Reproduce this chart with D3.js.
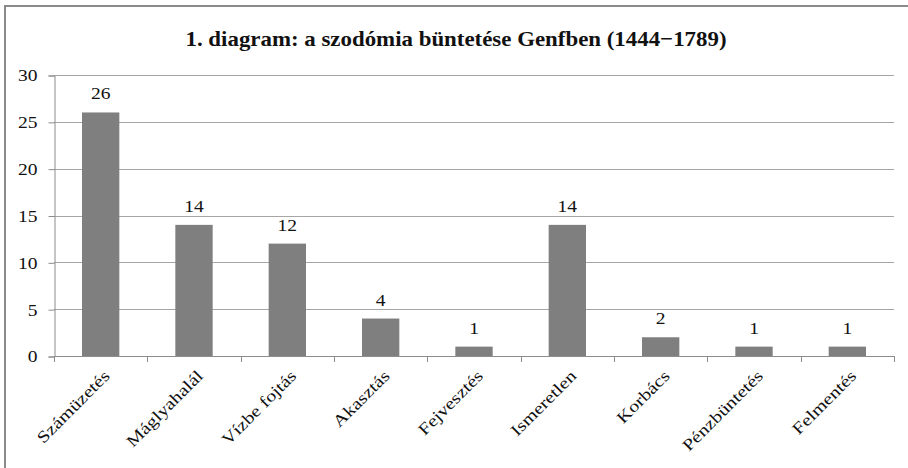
<!DOCTYPE html>
<html lang="hu">

<head>
  <title></title>
  <meta charset="UTF-8">
  <style>
    body {
      margin: 0;
      background: #fff;
    }
    svg text {
      font-family: "Liberation Serif", "Times New Roman", "DejaVu Serif", serif;
    }
  </style>
</head>

<body>
  <div id="container"></div>
  <script src="https://cdn.jsdelivr.net/npm/d3@7"></script>
  <script>
    const categories = ['Számüzetés', 'Máglyahalál', 'Vízbe fojtás', 'Akasztás', 'Fejvesztés',
      'Ismeretlen', 'Korbács', 'Pénzbüntetés', 'Felmentés'];
    const counts = [26, 14, 12, 4, 1, 14, 2, 1, 1];
    const yTicks = [0, 5, 10, 15, 20, 25, 30];
    const title = '1. diagram: a szodómia büntetése Genfben (1444\u22121789)';

    const size = { w: 908, h: 468 };
    const plot = { left: 54, right: 894, top: 75, bottom: 356 };
    const stretch = 1.22; // the original text is rendered a bit wide

    const svg = d3.select('#container')
      .append('svg')
      .attr('width', size.w)
      .attr('height', size.h);

    // outer frame (only top/left edges visible in the crop)
    svg.append('rect')
      .attr('x', 5)
      .attr('y', 6)
      .attr('width', size.w + 20)
      .attr('height', size.h + 20)
      .attr('fill', 'none')
      .attr('stroke', '#8a8a8a')
      .attr('stroke-width', 2);

    svg.append('text')
      .attr('x', 456)
      .attr('y', 46)
      .attr('text-anchor', 'middle')
      .attr('font-size', 22)
      .attr('font-weight', 'bold')
      .attr('fill', '#111')
      .attr('textLength', 541)
      .attr('lengthAdjust', 'spacingAndGlyphs')
      .text(title);

    const x = d3.scaleBand()
      .domain(categories)
      .range([plot.left, plot.right])
      .paddingInner(0.6)
      .paddingOuter(0.3);

    const y = d3.scaleLinear()
      .domain([0, 30])
      .range([plot.bottom, plot.top]);

    // gridlines
    svg.append('g')
      .selectAll('line')
      .data(yTicks.slice(1))
      .join('line')
      .attr('x1', plot.left)
      .attr('x2', plot.right)
      .attr('y1', d => Math.round(y(d)) + 0.5)
      .attr('y2', d => Math.round(y(d)) + 0.5)
      .attr('stroke', '#a6a6a6')
      .attr('stroke-width', 1);

    // y axis
    const yAxis = svg.append('g')
      .attr('transform', `translate(${plot.left + 0.5},0.5)`)
      .call(d3.axisLeft(y).tickValues(yTicks).tickSize(6));
    yAxis.select('.domain').attr('stroke', '#8c8c8c');
    yAxis.selectAll('.tick line').attr('stroke', '#8c8c8c');
    yAxis.selectAll('.tick text')
      .attr('x', 0)
      .attr('dy', '0.34em')
      .attr('transform', `translate(-17,0) scale(${stretch},1)`)
      .attr('font-size', 16)
      .attr('fill', '#111');

    // bars
    svg.append('g')
      .selectAll('rect')
      .data(counts)
      .join('rect')
      .attr('x', (d, i) => x(categories[i]))
      .attr('y', d => y(d))
      .attr('width', x.bandwidth())
      .attr('height', d => y(0) - y(d))
      .attr('fill', '#7f7f7f');

    // value labels
    svg.append('g')
      .selectAll('text')
      .data(counts)
      .join('text')
      .attr('transform', (d, i) => `translate(${x(categories[i]) + x.bandwidth() / 2},${y(d) - 13}) scale(${stretch},1)`)
      .attr('text-anchor', 'middle')
      .attr('font-size', 16)
      .attr('fill', '#111')
      .text(d => d);

    // x axis with ticks at band edges
    const edges = d3.range(categories.length + 1).map(i => plot.left + i * (plot.right - plot.left) / categories.length);
    const xg = svg.append('g');
    xg.append('line')
      .attr('x1', plot.left)
      .attr('x2', plot.right)
      .attr('y1', plot.bottom + 0.5)
      .attr('y2', plot.bottom + 0.5)
      .attr('stroke', '#8c8c8c');
    xg.selectAll('.edge')
      .data(edges)
      .join('line')
      .attr('class', 'edge')
      .attr('x1', d => Math.round(d) + 0.5)
      .attr('x2', d => Math.round(d) + 0.5)
      .attr('y1', plot.bottom)
      .attr('y2', plot.bottom + 6)
      .attr('stroke', '#8c8c8c');

    xg.selectAll('.lbl')
      .data(categories)
      .join('text')
      .attr('class', 'lbl')
      .attr('text-anchor', 'end')
      .attr('font-size', 16.5)
      .attr('fill', '#111')
      .attr('transform', d => `translate(${x(d) + x.bandwidth() / 2 + 10},${plot.bottom + 21}) rotate(-45) scale(${stretch},1)`)
      .text(d => d);
  </script>
</body>

</html>
